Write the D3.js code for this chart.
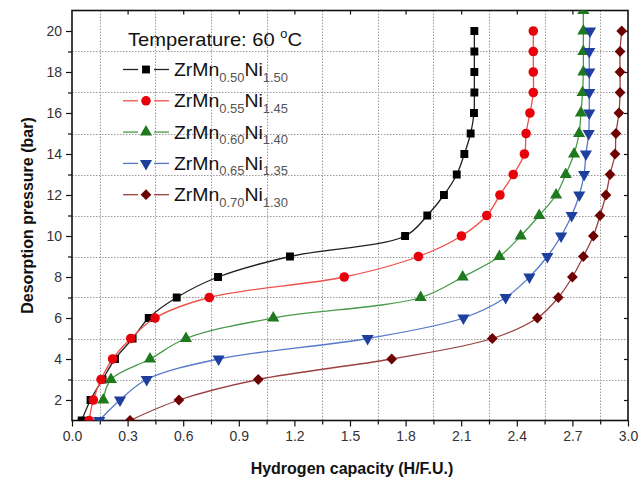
<!DOCTYPE html>
<html>
<head>
<meta charset="utf-8">
<script src="https://cdn.jsdelivr.net/npm/d3@7"></script>
<style>
  body { margin: 0; background: #fff; }
  svg { font-family: "Liberation Sans", Arial, sans-serif; display: block; }
</style>
</head>
<body>
<div id="chart"></div>
<script>
// Desorption pressures (bar) at which points were measured
const pressures = [1, 2, 3, 4, 5, 6, 7, 8, 9, 10, 11, 12, 13, 14, 15, 16, 17, 18, 19, 20];
const pressuresGreen = [2, 3, 4, 5, 6, 7, 8, 9, 10, 11, 12, 13, 14, 15, 16, 17, 18, 19, 20, 21];

// Hydrogen capacity (H/F.U.) for each alloy
const capMn050 = [0.052, 0.10, 0.165, 0.232, 0.327, 0.414, 0.565, 0.788, 1.176, 1.797, 1.917, 2.007, 2.076, 2.117, 2.151, 2.169, 2.171, 2.171, 2.171, 2.171];
const capMn055 = [0.092, 0.115, 0.157, 0.219, 0.317, 0.448, 0.741, 1.469, 1.869, 2.101, 2.238, 2.309, 2.381, 2.441, 2.450, 2.471, 2.489, 2.489, 2.489, 2.489];
const capMn060 = [0.169, 0.210, 0.421, 0.615, 1.086, 1.881, 2.108, 2.306, 2.421, 2.521, 2.612, 2.664, 2.709, 2.736, 2.746, 2.755, 2.759, 2.759, 2.759, 2.759];
const capMn065 = [0.147, 0.259, 0.403, 0.791, 1.595, 2.112, 2.340, 2.468, 2.565, 2.639, 2.696, 2.737, 2.763, 2.773, 2.788, 2.791, 2.791, 2.791, 2.791, 2.795];
const capMn070 = [0.313, 0.577, 1.005, 1.725, 2.268, 2.511, 2.624, 2.700, 2.759, 2.813, 2.849, 2.881, 2.903, 2.930, 2.935, 2.951, 2.957, 2.957, 2.957, 2.966];

const xTicks = [0, 0.3, 0.6, 0.9, 1.2, 1.5, 1.8, 2.1, 2.4, 2.7, 3.0];
const yTicks = [2, 4, 6, 8, 10, 12, 14, 16, 18, 20];

const series = [
    { mn: "0.50", ni: "1.50", p: pressures, h: capMn050, line: "#222", fill: "#000", sym: d3.symbolSquare, size: 62 },
    { mn: "0.55", ni: "1.45", p: pressures, h: capMn055, line: "#f0504a", fill: "#e8000a", sym: d3.symbolCircle, size: 72 },
    { mn: "0.60", ni: "1.40", p: pressuresGreen, h: capMn060, line: "#4a9a4a", fill: "#1f7a1f", sym: d3.symbolTriangle, size: 64 },
    { mn: "0.65", ni: "1.35", p: pressures, h: capMn065, line: "#5577cc", fill: "#1f3f9f", sym: d3.symbolTriangle, size: 64, rot: 180 },
    { mn: "0.70", ni: "1.30", p: pressures, h: capMn070, line: "#9a4040", fill: "#6e0000", sym: d3.symbolSquare, size: 58, rot: 45 }
];

const width = 644, height = 486;
const margin = { top: 10.5, right: 16, bottom: 65.5, left: 72 };

const svg = d3.select("#chart").append("svg")
    .attr("width", width)
    .attr("height", height);

const x = d3.scaleLinear().domain([0, 3]).range([margin.left, width - margin.right]);
const y = d3.scaleLinear().domain([1, 21]).range([height - margin.bottom, margin.top]);

// Minor positions (grid sits on them)
const xMinor = d3.range(0.15, 3, 0.3);
const yMinor = d3.range(3, 21, 2);

svg.append("defs").append("clipPath")
    .attr("id", "plot-clip")
    .append("rect")
    .attr("x", margin.left)
    .attr("y", margin.top)
    .attr("width", x(3) - x(0))
    .attr("height", y(1) - y(21));

// Grid
const grid = svg.append("g").attr("stroke", "#999").attr("stroke-width", 1).attr("stroke-dasharray", "1.5,1.5");
grid.selectAll("line.gx").data(xMinor).join("line")
    .attr("x1", (d) => Math.round(x(d)) + 0.5).attr("x2", (d) => Math.round(x(d)) + 0.5)
    .attr("y1", y(21)).attr("y2", y(1));
grid.selectAll("line.gy").data(yMinor).join("line")
    .attr("y1", (d) => Math.round(y(d)) + 0.5).attr("y2", (d) => Math.round(y(d)) + 0.5)
    .attr("x1", x(0)).attr("x2", x(3));

// Axes
svg.append("g")
    .attr("transform", "translate(0," + y(1) + ")")
    .call(d3.axisBottom(x).tickValues(xTicks).tickSize(6).tickPadding(5).tickFormat(d3.format(".1f")));
svg.append("g")
    .attr("transform", "translate(0," + y(1) + ")")
    .call(d3.axisBottom(x).tickValues(xMinor).tickSize(4).tickFormat(""));

svg.append("g")
    .attr("transform", "translate(" + x(0) + ",0)")
    .call(d3.axisLeft(y).tickValues(yTicks).tickSize(6).tickPadding(4));
svg.append("g")
    .attr("transform", "translate(" + x(0) + ",0)")
    .call(d3.axisLeft(y).tickValues(yMinor).tickSize(4).tickFormat(""));

// Top and right inward ticks
svg.append("g")
    .attr("transform", "translate(0," + y(21) + ")")
    .call(d3.axisBottom(x).tickValues(xTicks.slice(1, -1)).tickSize(4).tickFormat(""));
svg.append("g")
    .attr("transform", "translate(" + x(3) + ",0)")
    .call(d3.axisLeft(y).tickValues(yTicks).tickSize(4).tickFormat(""));

svg.selectAll(".domain").remove();
svg.selectAll(".tick line").attr("stroke", "#111").attr("stroke-width", 1.2);
svg.selectAll(".tick text").attr("font-size", 14).attr("fill", "#333");

// Frame
svg.append("rect")
    .attr("x", x(0)).attr("y", y(21))
    .attr("width", x(3) - x(0)).attr("height", y(1) - y(21))
    .attr("fill", "none").attr("stroke", "#111").attr("stroke-width", 1.6);

// Curves and markers
const line = d3.line()
    .x((d) => x(d[0]))
    .y((d) => y(d[1]))
    .curve(d3.curveCatmullRom.alpha(0.5));

const plot = svg.append("g").attr("clip-path", "url(#plot-clip)");

function markerTransform(s, px, py) {
    return "translate(" + px + "," + py + ")" + (s.rot ? " rotate(" + s.rot + ")" : "");
}

series.forEach((s) => {
    const pts = s.h.map((h, i) => [h, s.p[i]]);
    plot.append("path")
        .datum(pts)
        .attr("fill", "none")
        .attr("stroke", s.line)
        .attr("stroke-width", 1.3)
        .attr("d", line);
    plot.selectAll(null)
        .data(pts)
        .join("path")
        .attr("transform", (d) => markerTransform(s, x(d[0]), y(d[1])))
        .attr("d", d3.symbol(s.sym, s.size))
        .attr("fill", s.fill);
});

// Legend
const legend = svg.append("g").attr("fill", "#111");
const tempText = legend.append("text")
    .attr("x", 128).attr("y", 46)
    .attr("font-size", 19)
    .attr("textLength", 174)
    .attr("lengthAdjust", "spacingAndGlyphs");
tempText.append("tspan").text("Temperature: 60 ");
tempText.append("tspan").attr("font-size", 12).attr("dy", -8).text("o");
tempText.append("tspan").attr("dy", 8).text("C");

series.forEach((s, i) => {
    const cy = 69.5 + i * 31.3;
    const g = legend.append("g");
    g.append("line").attr("x1", 123).attr("x2", 138).attr("y1", cy).attr("y2", cy)
        .attr("stroke", s.line).attr("stroke-width", 1.3);
    g.append("line").attr("x1", 154).attr("x2", 169).attr("y1", cy).attr("y2", cy)
        .attr("stroke", s.line).attr("stroke-width", 1.3);
    g.append("path")
        .attr("transform", markerTransform(s, 146, cy))
        .attr("d", d3.symbol(s.sym, s.size))
        .attr("fill", s.fill);
    const t = g.append("text").attr("x", 174).attr("y", cy + 6.5).attr("font-size", 18)
        .attr("textLength", 114)
        .attr("lengthAdjust", "spacingAndGlyphs");
    t.append("tspan").text("ZrMn");
    t.append("tspan").attr("font-size", 12).attr("dy", 5.5).attr("fill", "#555").text(s.mn);
    t.append("tspan").attr("dy", -5.5).text("Ni");
    t.append("tspan").attr("font-size", 12).attr("dy", 5.5).attr("fill", "#555").text(s.ni);
});

// Axis titles
svg.append("text")
    .attr("x", (x(0) + x(3)) / 2 + 2).attr("y", 474)
    .attr("text-anchor", "middle")
    .attr("font-size", 16).attr("font-weight", "bold").attr("fill", "#111")
    .text("Hydrogen capacity (H/F.U.)");

svg.append("text")
    .attr("transform", "translate(33," + ((y(1) + y(21)) / 2) + ") rotate(-90)")
    .attr("text-anchor", "middle")
    .attr("font-size", 16).attr("font-weight", "bold").attr("fill", "#111")
    .text("Desorption pressure (bar)");
</script>
</body>
</html>
